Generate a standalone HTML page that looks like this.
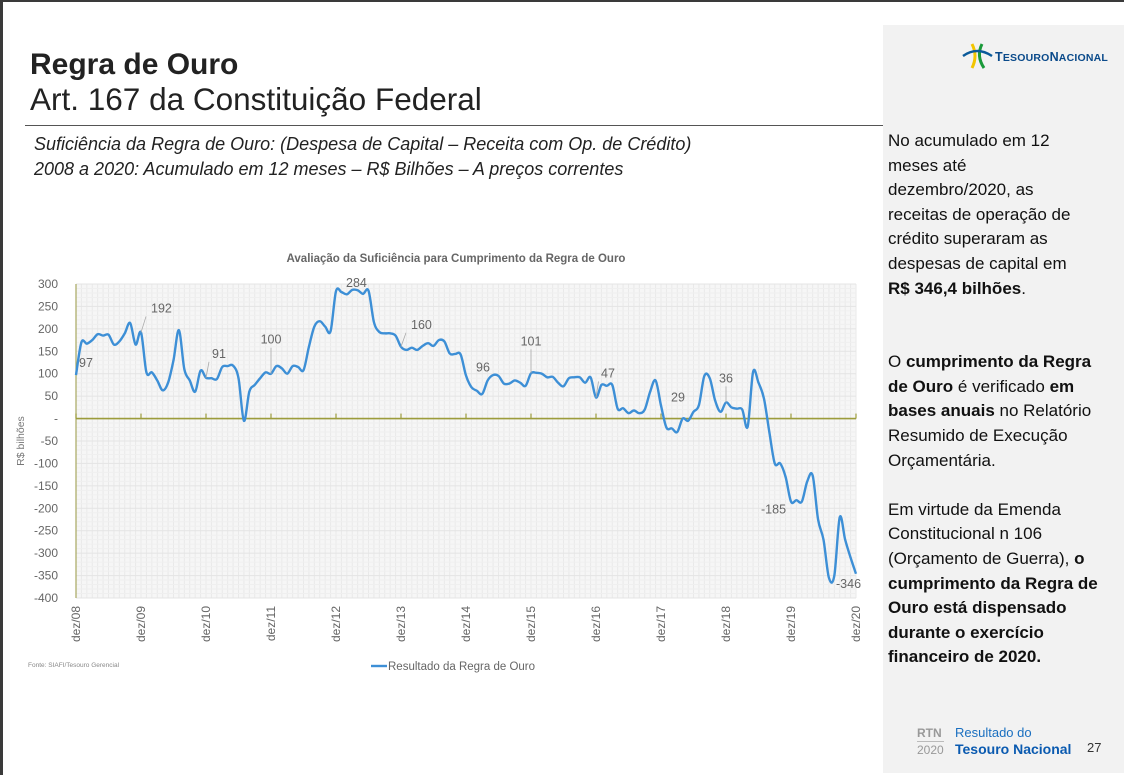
<!DOCTYPE html>
<html><head><meta charset="utf-8">
<style>
body{margin:0;width:1124px;height:775px;overflow:hidden;background:#fff;font-family:"Liberation Sans",sans-serif;position:relative}
.abs{position:absolute}
#panel{left:883px;top:25px;width:241px;height:748px;background:#f2f2f2}
#side{left:888px;top:129px;width:236px;font-size:17px;line-height:24.6px;color:#111;white-space:nowrap}
#side p{margin:0 0 24.6px 0}
</style></head><body>
<div class="abs" style="left:0;top:0;width:3px;height:775px;background:#3a3a3a"></div>
<div class="abs" style="left:0;top:0;width:1124px;height:2px;background:#3a3a3a"></div>
<div class="abs" id="panel"></div>
<div class="abs" style="left:30px;top:48px;font-size:30px;font-weight:bold;color:#222">Regra de Ouro</div>
<div class="abs" style="left:30px;top:81px;font-size:31.5px;color:#222">Art. 167 da Constituição Federal</div>
<div class="abs" style="left:25px;top:125px;width:858px;height:1px;background:#555"></div>
<div class="abs" style="left:34px;top:132px;font-size:18px;line-height:25px;font-style:italic;color:#222">Suficiência da Regra de Ouro: (Despesa de Capital – Receita com Op. de Crédito)<br>2008 a 2020: Acumulado em 12 meses – R$ Bilhões – A preços correntes</div>

<div class="abs" style="left:962px;top:40px;width:150px;height:30px">
<svg width="40" height="30" style="position:absolute;left:0;top:0"><path d="M10 4 Q16 16 10 28" stroke="#f2c500" stroke-width="3" fill="none"/><path d="M20 4 Q14 16 22 28" stroke="#1a9a3a" stroke-width="3" fill="none"/><path d="M1 16 Q15 6 30 16" stroke="#0a5a9a" stroke-width="2.5" fill="none"/></svg>
<span style="position:absolute;left:33px;top:10px;font-size:12.5px;font-weight:bold;color:#0a4a8a;letter-spacing:0.2px">T<span style="font-size:10.5px">ESOURO</span>N<span style="font-size:10.5px">ACIONAL</span></span>
</div>

<div class="abs" id="side">
<p>No acumulado em 12<br>meses até<br>dezembro/2020, as<br>receitas de operação de<br>crédito superaram as<br>despesas de capital em<br><b>R$ 346,4 bilhões</b>.</p>
<p style="margin-top:49px">O <b>cumprimento da Regra</b><br><b>de Ouro</b> é verificado <b>em</b><br><b>bases anuais</b> no Relatório<br>Resumido de Execução<br>Orçamentária.</p>
<p>Em virtude da Emenda<br>Constitucional n 106<br>(Orçamento de Guerra), <b>o</b><br><b>cumprimento da Regra de</b><br><b>Ouro está dispensado</b><br><b>durante o exercício</b><br><b>financeiro de 2020.</b></p>
</div>

<div class="abs" style="left:917px;top:725px;width:180px;height:36px">
<div style="position:absolute;left:0;top:1px;font-size:12px;color:#999;font-weight:bold">RTN</div>
<div style="position:absolute;left:0;top:16px;width:27px;height:1px;background:#bbb"></div>
<div style="position:absolute;left:0;top:18px;font-size:12px;color:#999">2020</div>
<div style="position:absolute;left:38px;top:0;font-size:13px;color:#1a6fc0">Resultado do</div>
<div style="position:absolute;left:38px;top:16px;font-size:14px;font-weight:bold;color:#0a5ab0">Tesouro Nacional</div>
<div style="position:absolute;left:170px;top:15px;font-size:13px;color:#333">27</div>
</div>

<svg class="abs" style="left:0;top:0" width="883" height="700" id="chart" font-family="Liberation Sans, sans-serif"></svg>

<script>
const yTicks=[300,250,200,150,100,50,0,-50,-100,-150,-200,-250,-300,-350,-400];
const yearLabels=["dez/08","dez/09","dez/10","dez/11","dez/12","dez/13","dez/14","dez/15","dez/16","dez/17","dez/18","dez/19","dez/20"];
const values=[97,
170,167,175,188,185,187,165,172,190,213,165,192,
103,103,85,63,80,130,197,110,85,60,107,91,
90,88,115,117,118,90,-5,60,75,90,103,100,
117,112,100,117,115,108,160,205,217,205,195,284,
282,277,287,286,278,285,215,193,190,190,185,160,
153,158,153,162,168,162,175,172,145,144,143,96,
70,62,55,85,97,95,78,78,85,80,73,101,
102,100,92,93,80,72,90,92,92,80,92,47,
75,73,75,22,23,12,18,12,20,60,85,29,
-20,-22,-30,0,-5,15,30,95,90,40,15,36,
25,22,20,-18,104,80,45,-30,-100,-100,-130,-185,
-182,-185,-140,-127,-225,-270,-355,-350,-220,-270,-310,-346];
const labelIdx=[0,12,24,36,48,60,72,84,96,108,120,132,144];
const labelText=["97","192","91","100","284","160","96","101","47","29","36","-185","-346"];
const labelOff=[[3,-8],[10,-20],[6,-20],[0,-30],[10,-4],[10,-18],[10,-4],[0,-28],[5,-20],[10,-4],[0,-20],[-30,12],[-20,14]];

const svg=document.getElementById('chart');const NS='http://www.w3.org/2000/svg';
const X0=76,X1=856,Y0=284,Y1=598,VMAX=300,VMIN=-400;
const xs=i=>X0+(X1-X0)*i/(values.length-1);
const ys=v=>Y0+(VMAX-v)*(Y1-Y0)/(VMAX-VMIN);
function mk(t,a,p){const e=document.createElementNS(NS,t);for(const k in a)e.setAttribute(k,a[k]);(p||svg).appendChild(e);return e;}
let e;
e=mk('rect',{x:X0,y:Y0,width:X1-X0,height:Y1-Y0,fill:'#f6f6f6'});


for(let i=0;i<values.length;i++){mk('line',{x1:xs(i),x2:xs(i),y1:Y0,y2:Y1,stroke:'#e9e9e9','stroke-width':1});}
for(let v=VMAX;v>=VMIN;v-=10){mk('line',{x1:X0,x2:X1,y1:ys(v),y2:ys(v),stroke:v%50==0?'#e4e4e4':'#efefef','stroke-width':1});}
e=mk('text',{x:456,y:262,'text-anchor':'middle','font-size':11.5,'font-weight':'bold',fill:'#666'});e.textContent='Avaliação da Suficiência para Cumprimento da Regra de Ouro';


yTicks.forEach(v=>{const t=mk('text',{x:58,y:ys(v)+4,'text-anchor':'end','font-size':12,fill:'#666'});t.textContent=v===0?'-':String(v);

});
e=mk('text',{x:0,y:0,transform:'translate(24,441) rotate(-90)','text-anchor':'middle','font-size':10.5,fill:'#777'});e.textContent='R$ bilhões';


mk('line',{x1:X0,x2:X0,y1:Y0,y2:Y1,stroke:'#a8a860','stroke-width':1.2});
mk('line',{x1:X0,x2:X1,y1:ys(0),y2:ys(0),stroke:'#9c9c3c','stroke-width':1.6});
yearLabels.forEach((l,k)=>{const x=xs(k*12);mk('line',{x1:x,x2:x,y1:ys(0)-5,y2:ys(0),stroke:'#9c9c3c','stroke-width':1.2});
const t=mk('text',{x:0,y:0,transform:`translate(${x+4},606) rotate(-90)`,'text-anchor':'end','font-size':12,fill:'#666'});t.textContent=l;

});
const pts=values.map((v,i)=>[xs(i),ys(v)]);
let d=`M${pts[0][0]},${pts[0][1]}`;
for(let i=0;i<pts.length-1;i++){const p0=pts[i-1]||pts[i],p1=pts[i],p2=pts[i+1],p3=pts[i+2]||p2;
d+=` C${p1[0]+(p2[0]-p0[0])/6},${p1[1]+(p2[1]-p0[1])/6} ${p2[0]-(p3[0]-p1[0])/6},${p2[1]-(p3[1]-p1[1])/6} ${p2[0]},${p2[1]}`;}
e=mk('path',{d:d,fill:'none',stroke:'#3d8fd6','stroke-width':2.4,'stroke-linejoin':'round'});


labelIdx.forEach((idx,k)=>{const x=xs(idx),y=ys(values[idx]);const [dx,dy]=labelOff[k];
if(dy<-10&&k!==11)mk('line',{x1:x,y1:y,x2:x+dx*0.5,y2:y+dy+4,stroke:'#aaa','stroke-width':0.8});
const t=mk('text',{x:x+dx,y:y+dy,'font-size':12.5,fill:'#666','text-anchor':dx===0?'middle':'start'});t.textContent=labelText[k];

});
e=mk('text',{x:28,y:667,'font-size':6.5,fill:'#888'});e.textContent='Fonte: SIAFI/Tesouro Gerencial';


mk('line',{x1:371,x2:387,y1:666,y2:666,stroke:'#3d8fd6','stroke-width':2.4});
e=mk('text',{x:388,y:670,'font-size':11.5,fill:'#666'});e.textContent='Resultado da Regra de Ouro';


</script>
</body></html>
